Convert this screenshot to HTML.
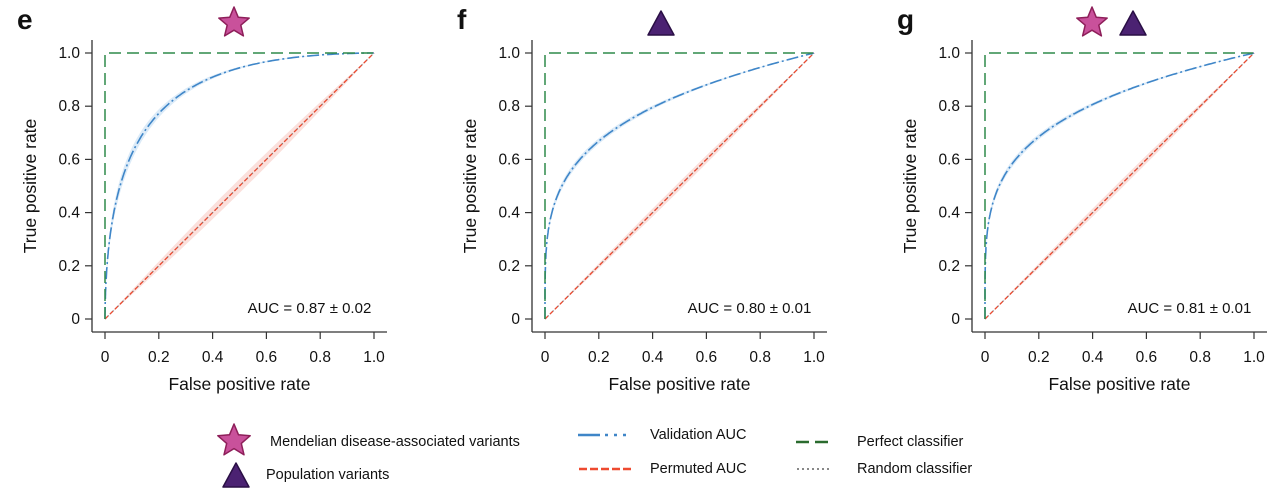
<!DOCTYPE html><html><head><style>
body{margin:0;background:#fff;font-family:"Liberation Sans",sans-serif;}
svg text{font-family:"Liberation Sans",sans-serif;fill:#111}
</style></head><body>
<svg id="s" width="1280" height="491" xmlns="http://www.w3.org/2000/svg"></svg>
<script>
const s=document.getElementById('s');let h='';
function erf(x){const t=1/(1+0.3275911*Math.abs(x));const y=1-(((((1.061405429*t-1.453152027)*t)+1.421413741)*t-0.284496736)*t+0.254829592)*t*Math.exp(-x*x);return x>=0?y:-y;}
function Phi(x){return 0.5*(1+erf(x/Math.SQRT2));}
function iPhi(p){let lo=-8,hi=8;for(let i=0;i<60;i++){let m=(lo+hi)/2;if(Phi(m)<p)lo=m;else hi=m;}return (lo+hi)/2;}
function roc(f,P){if(f<=0)return 0;if(f>=1)return 1;return P.d?Phi(P.d+iPhi(f)):Math.pow(f,P.a);}
function star(cx,cy,R){let p=[];for(let i=0;i<10;i++){let r=i%2?R*0.45:R;let a=-Math.PI/2+i*Math.PI/5;p.push((cx+r*Math.cos(a)).toFixed(1)+','+(cy+r*Math.sin(a)).toFixed(1));}
return `<polygon points="${p.join(' ')}" fill="#c9519b" stroke="#8e1f5a" stroke-width="1.5" stroke-linejoin="round"/>`;}
function tri(cx,cy,w,hh){return `<polygon points="${cx},${cy-hh/2} ${cx+w/2},${cy+hh/2} ${cx-w/2},${cy+hh/2}" fill="#4b2272" stroke="#2a0f45" stroke-width="1.5" stroke-linejoin="round"/>`;}
const panels=[{x0:105,d:1.59,l:'e',auc:'0.87 ± 0.02',band:8,rb:5},{x0:545,a:0.25,l:'f',auc:'0.80 ± 0.01',band:4,rb:3},{x0:985,a:0.235,l:'g',auc:'0.81 ± 0.01',band:4,rb:3}];
const W=269,y0=319,H=266;
panels.forEach((P,k)=>{const X=v=>P.x0+v*W,Y=v=>y0-v*H;
 let up=[],dn=[];for(let i=0;i<=160;i++){let f=Math.pow(i/160,2.5);let t=roc(f,P);let b=(P.band/H)*Math.sin(Math.PI*t)*Math.sqrt(1-t*0.5);up.push(X(f).toFixed(1)+','+Y(Math.min(1,t+b)).toFixed(1));dn.unshift(X(f).toFixed(1)+','+Y(Math.max(0,t-b)).toFixed(1));}
 h+=`<polygon points="${up.join(' ')} ${dn.join(' ')}" fill="#dcebf8"/>`;
 let ru=[],rd=[];for(let i=0;i<=40;i++){let v=i/40;let w=P.rb*Math.sin(Math.PI*v)*0.7;ru.push((X(v)-w).toFixed(1)+','+(Y(v)-w).toFixed(1));rd.unshift((X(v)+w).toFixed(1)+','+(Y(v)+w).toFixed(1));}
 h+=`<polygon points="${ru.join(' ')} ${rd.join(' ')}" fill="#fbe0dc"/>`;
 let pts=[];for(let i=0;i<=240;i++){let f=Math.pow(i/240,2.5);pts.push(X(f).toFixed(1)+','+Y(roc(f,P)).toFixed(1));}
 h+=`<polyline points="${pts.join(' ')}" fill="none" stroke="#3f86c8" stroke-width="1.6" stroke-dasharray="12,3,2,3"/>`;
 h+=`<line x1="${X(0)}" y1="${Y(0)}" x2="${X(1)}" y2="${Y(1)}" stroke="#777" stroke-width="1.2" stroke-dasharray="1.5,2"/>`;
 h+=`<line x1="${X(0)}" y1="${Y(0)}" x2="${X(1)}" y2="${Y(1)}" stroke="#ee4a30" stroke-width="1.3" stroke-dasharray="4,3"/>`;
 h+=`<polyline points="${X(0)},${Y(0)} ${X(0)},${Y(1)} ${X(1)},${Y(1)}" fill="none" stroke="#2f8a4a" stroke-width="1.5" stroke-dasharray="12,6"/>`;
 let lx=P.x0-13,by=332;
 h+=`<line x1="${lx}" y1="40" x2="${lx}" y2="${by}" stroke="#333" stroke-width="1.3"/><line x1="${lx}" y1="${by}" x2="${X(1)+13}" y2="${by}" stroke="#333" stroke-width="1.3"/>`;
 ['0','0.2','0.4','0.6','0.8','1.0'].forEach((t,i)=>{let v=i/5;
  h+=`<line x1="${lx-7}" y1="${Y(v)}" x2="${lx}" y2="${Y(v)}" stroke="#333" stroke-width="1.2"/><text x="${lx-12}" y="${Y(v)+5}" font-size="15.5" text-anchor="end">${t}</text>`;
  h+=`<line x1="${X(v)}" y1="${by}" x2="${X(v)}" y2="${by+7}" stroke="#333" stroke-width="1.2"/><text x="${X(v)}" y="${by+30}" font-size="15.5" text-anchor="middle">${t}</text>`;});
 h+=`<text x="${X(0.5)}" y="390" font-size="17.5" text-anchor="middle">False positive rate</text>`;
 h+=`<text transform="translate(${P.x0-69},186) rotate(-90)" font-size="17.5" text-anchor="middle">True positive rate</text>`;
 h+=`<text x="${X(0.99)}" y="313" font-size="15" text-anchor="end">AUC = ${P.auc}</text>`;
 h+=`<text x="${P.x0-88}" y="29" font-size="28" font-weight="bold">${P.l}</text>`;
});
h+=star(234,23,16)+tri(661,23,26,24)+star(1092,23,16)+tri(1133,23,26,24);
h+=star(234,441,17)+tri(236,475,26,24);
h+=`<text x="270" y="446" font-size="14.5">Mendelian disease-associated variants</text><text x="266" y="479" font-size="14.5">Population variants</text>`;
h+=`<line x1="578" y1="435" x2="600" y2="435" stroke="#3f86c8" stroke-width="2.5"/><line x1="605" y1="435" x2="630" y2="435" stroke="#3f86c8" stroke-width="2.5" stroke-dasharray="3,6"/><text x="650" y="439" font-size="14.5">Validation AUC</text>`;
h+=`<line x1="579" y1="469" x2="632" y2="469" stroke="#ee4a30" stroke-width="2.5" stroke-dasharray="8,3"/><text x="650" y="473" font-size="14.5">Permuted AUC</text>`;
h+=`<line x1="796" y1="442" x2="830" y2="442" stroke="#2a6b2e" stroke-width="2.5" stroke-dasharray="13,6"/><text x="857" y="446" font-size="14.5">Perfect classifier</text>`;
h+=`<line x1="797" y1="469" x2="830" y2="469" stroke="#888" stroke-width="2" stroke-dasharray="2,3"/><text x="857" y="473" font-size="14.5">Random classifier</text>`;
s.innerHTML=h;
</script></body></html>
